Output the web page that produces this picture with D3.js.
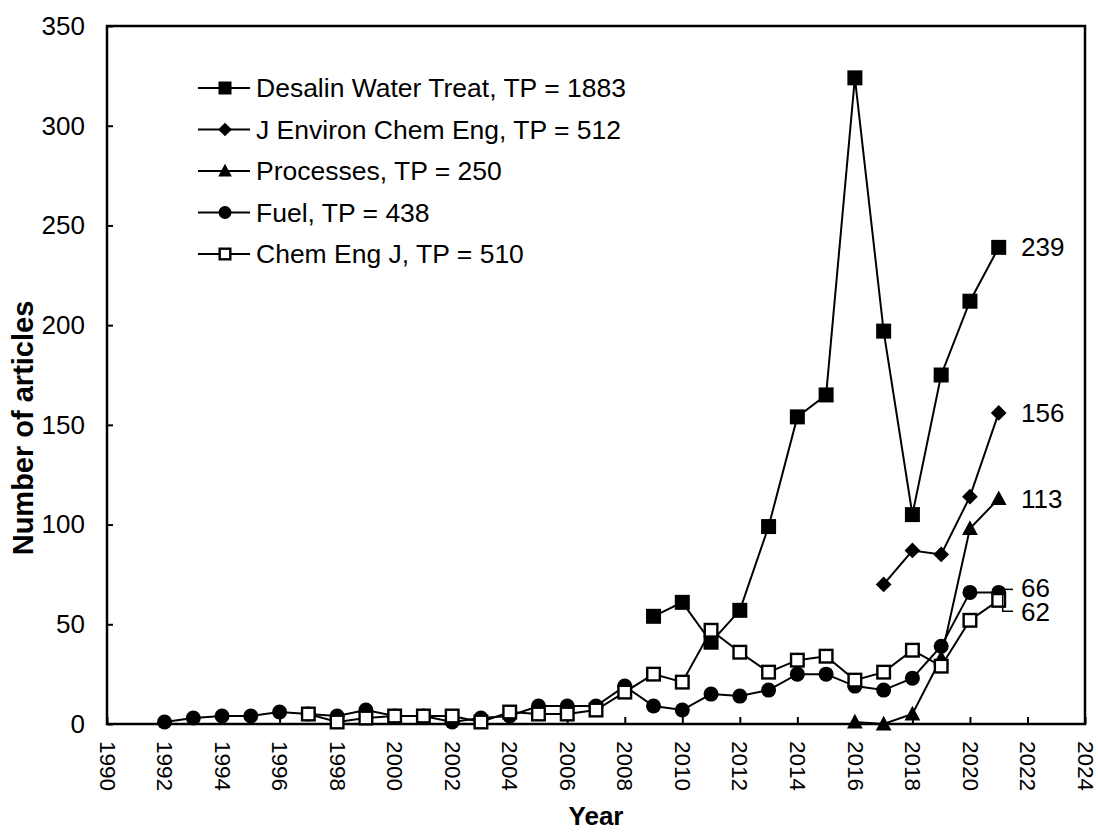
<!DOCTYPE html>
<html>
<head>
<meta charset="utf-8">
<script src="https://cdn.jsdelivr.net/npm/d3@7"></script>
<style>
  html, body { margin: 0; padding: 0; background: #fff; }
  svg { display: block; }
  text { font-family: "Liberation Sans", Arial, sans-serif; fill: #000; }
</style>
</head>
<body>
<svg id="chart" width="1098" height="832"></svg>
<script>
// ---- data ----
const desalinYears = [2009,2010,2011,2012,2013,2014,2015,2016,2017,2018,2019,2020,2021];
const desalinValues = [54,61,41,57,99,154,165,324,197,105,175,212,239];

const jecheYears = [2017,2018,2019,2020,2021];
const jecheValues = [70,87,85,114,156];

const processesYears = [2016,2017,2018,2019,2020,2021];
const processesValues = [1,0,5,33,98,113];

const fuelYears = [1992,1993,1994,1995,1996,1997,1998,1999,2000,2001,2002,2003,2004,2005,2006,2007,2008,2009,2010,2011,2012,2013,2014,2015,2016,2017,2018,2019,2020,2021];
const fuelValues = [1,3,4,4,6,5,4,7,4,4,1,3,4,9,9,9,19,9,7,15,14,17,25,25,19,17,23,39,66,66];

const cejYears = [1997,1998,1999,2000,2001,2002,2003,2004,2005,2006,2007,2008,2009,2010,2011,2012,2013,2014,2015,2016,2017,2018,2019,2020,2021];
const cejValues = [5,1,3,4,4,4,1,6,5,5,7,16,25,21,47,36,26,32,34,22,26,37,29,52,62];

const seriesNames = ["Desalin Water Treat, TP = 1883","J Environ Chem Eng, TP = 512","Processes, TP = 250","Fuel, TP = 438","Chem Eng J, TP = 510"];
const seriesMarkers = ["square","diamond","triangle","circle","hollowSquare"];

const xTicks = [1990,1992,1994,1996,1998,2000,2002,2004,2006,2008,2010,2012,2014,2016,2018,2020,2022,2024];
const yTicks = [0,50,100,150,200,250,300,350];

const endLabels = ["239","156","113","66","62"];

// ---- layout ----
const FS = 26;
const svg = d3.select("#chart");
const x = d3.scaleLinear().domain([1990, 2024]).range([107, 1085]);
const y = d3.scaleLinear().domain([0, 350]).range([724, 26]);

const series = [
  {years: desalinYears, values: desalinValues},
  {years: jecheYears, values: jecheValues},
  {years: processesYears, values: processesValues},
  {years: fuelYears, values: fuelValues},
  {years: cejYears, values: cejValues}
].map((s, i) => ({name: seriesNames[i], marker: seriesMarkers[i],
  pts: s.years.map((yr, j) => ({x: yr, y: s.values[j]}))}));

function drawMarker(g, type, cx, cy, s) {
  const h = s / 2;
  if (type === "square") {
    g.append("rect").attr("x", cx - h).attr("y", cy - h).attr("width", s).attr("height", s).attr("fill", "#000");
  } else if (type === "hollowSquare") {
    g.append("rect").attr("x", cx - h + 1.2).attr("y", cy - h + 1.2).attr("width", s - 2.4).attr("height", s - 2.4)
      .attr("fill", "#fff").attr("stroke", "#000").attr("stroke-width", 2.4);
  } else if (type === "circle") {
    g.append("circle").attr("cx", cx).attr("cy", cy).attr("r", h).attr("fill", "#000");
  } else if (type === "diamond") {
    const d = h * 1.05;
    g.append("path").attr("d", `M${cx},${cy - d}L${cx + d},${cy}L${cx},${cy + d}L${cx - d},${cy}Z`).attr("fill", "#000");
  } else if (type === "triangle") {
    g.append("path").attr("d", `M${cx},${cy - h * 1.1}L${cx + h * 1.05},${cy + h * 0.85}L${cx - h * 1.05},${cy + h * 0.85}Z`).attr("fill", "#000");
  }
}

// frame
svg.append("rect").attr("x", x(1990)).attr("y", y(350)).attr("width", x(2024) - x(1990)).attr("height", y(0) - y(350))
  .attr("fill", "none").attr("stroke", "#000").attr("stroke-width", 2.5);

// y axis ticks
const yAxis = d3.axisLeft(y).tickValues(yTicks).tickSize(-6).tickPadding(22).tickFormat(d3.format("d"));
const gy = svg.append("g").attr("transform", `translate(${x(1990)},0)`).call(yAxis);
gy.select(".domain").remove();
gy.selectAll(".tick line").attr("stroke", "#000").attr("stroke-width", 2);
gy.selectAll(".tick text").attr("font-size", FS).attr("font-family", "Liberation Sans, Arial, sans-serif");

// x axis ticks
const xAxis = d3.axisBottom(x).tickValues(xTicks).tickSize(-7).tickFormat(d3.format("d"));
const gx = svg.append("g").attr("transform", `translate(0,${y(0)})`).call(xAxis);
gx.select(".domain").remove();
gx.selectAll(".tick line").attr("stroke", "#000").attr("stroke-width", 2);
gx.selectAll(".tick text").attr("font-size", 22.5).attr("font-family", "Liberation Sans, Arial, sans-serif")
  .attr("text-anchor", "start").attr("transform", "translate(0,17) rotate(90)")
  .attr("x", 0).attr("y", 0).attr("dy", "0.35em");

// series
const line = d3.line().x(d => x(d.x)).y(d => y(d.y));
series.forEach(s => {
  svg.append("path").datum(s.pts).attr("d", line).attr("fill", "none").attr("stroke", "#000").attr("stroke-width", 2);
});
series.forEach(s => {
  const g = svg.append("g");
  s.pts.forEach(p => drawMarker(g, s.marker, x(p.x), y(p.y), 15));
});

// end labels
const lastVals = series.map(s => s.pts[s.pts.length - 1].y);
const labelY = [y(lastVals[0]), y(lastVals[1]), y(lastVals[2]), y(lastVals[3]) - 4, y(lastVals[4]) + 12];
endLabels.forEach((t, i) => {
  svg.append("text").attr("x", 1021).attr("y", labelY[i]).attr("dy", "0.35em").attr("font-size", FS).text(t);
});
// leader lines for 66 / 62
svg.append("path").attr("d", `M${x(2021) + 2},${y(66) - 3}H${1013}`).attr("stroke", "#000").attr("stroke-width", 1.5).attr("fill", "none");
svg.append("path").attr("d", `M${x(2021) + 4},${y(62) - 6}V${y(62) + 11}H${1013}`).attr("stroke", "#000").attr("stroke-width", 1.5).attr("fill", "none");

// legend
const legend = svg.append("g");
series.forEach((s, i) => {
  const cy = 88 + i * 41.5;
  legend.append("line").attr("x1", 198).attr("x2", 250).attr("y1", cy).attr("y2", cy).attr("stroke", "#000").attr("stroke-width", 2);
  drawMarker(legend, s.marker, 225, cy, 13);
  legend.append("text").attr("x", 256).attr("y", cy).attr("dy", "0.35em").attr("font-size", 26.5).text(s.name);
});

// axis titles
svg.append("text").attr("transform", `translate(33,428) rotate(-90)`)
  .attr("text-anchor", "middle").attr("font-size", 29).attr("font-weight", "bold").text("Number of articles");
svg.append("text").attr("x", (x(1990) + x(2024)) / 2).attr("y", 825)
  .attr("text-anchor", "middle").attr("font-size", 26).attr("font-weight", "bold").text("Year");
</script>
</body>
</html>
